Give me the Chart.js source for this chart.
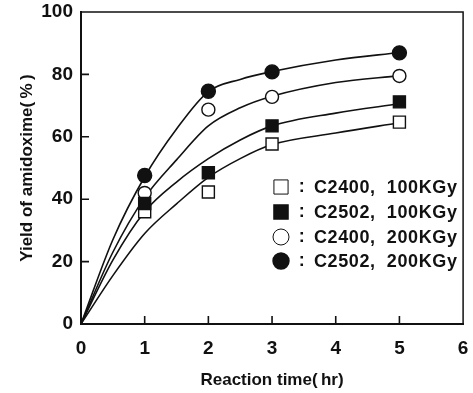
<!DOCTYPE html>
<html>
<head>
<meta charset="utf-8">
<script src="https://cdn.jsdelivr.net/npm/chart.js@4.4.1/dist/chart.umd.min.js"></script>
<style>
  html, body { margin: 0; padding: 0; background: #fff; }
  #wrap { width: 473px; height: 393px; position: relative; }
</style>
</head>
<body>
<div id="wrap"><canvas id="yield"></canvas></div>
<script>
// reaction times (hr) where yield was sampled
const TIMES = [1, 2, 3, 5];

// measured yield of amidoxime (%)
const C2400_100 = [36.0, 42.3, 57.7, 64.7];
const C2502_100 = [38.6, 48.5, 63.5, 71.2];
const C2400_200 = [42.0, 68.7, 72.8, 79.5];
const C2502_200 = [47.6, 74.6, 80.8, 86.9];

// smoothed trend lines, read at these times
const CURVE_X = [0, 0.5, 1, 1.5, 2, 2.5, 3, 4, 5];
const CURVE_C2400_100 = [0, 15.5, 29.0, 38.5, 47.0, 53.0, 57.5, 61.2, 64.5];
const CURVE_C2502_100 = [0, 20.5, 36.0, 45.5, 53.0, 59.0, 63.5, 67.6, 70.6];
const CURVE_C2400_200 = [0, 23.0, 40.5, 52.6, 63.5, 69.3, 73.0, 77.4, 79.6];
const CURVE_C2502_200 = [0, 27.0, 47.2, 62.5, 74.5, 78.4, 80.9, 84.6, 87.0];

const X_TICKS = [0, 1, 2, 3, 4, 5, 6];
const Y_TICKS = [0, 20, 40, 60, 80, 100];

const LEGEND_LABELS = ["C2400,  100KGy", "C2502,  100KGy", "C2400,  200KGy", "C2502,  200KGy"];

const FONT = '"Liberation Sans", Arial, sans-serif';
const INK = "#111";

const markerStyles = [
  { pointStyle: "rect",   radius: 8.5, fill: "#fff" },
  { pointStyle: "rect",   radius: 8.5, fill: INK },
  { pointStyle: "circle", radius: 6.5, fill: "#fff" },
  { pointStyle: "circle", radius: 7,   fill: INK },
];

function pts(xs, ys) {
  return xs.map((x, i) => ({ x: x, y: ys[i] }));
}

function curve(values) {
  return {
    type: "line",
    data: pts(CURVE_X, values),
    borderColor: INK,
    borderWidth: 1.6,
    pointRadius: 0,
    cubicInterpolationMode: "monotone",
    fill: false,
    order: 10,
  };
}

function markers(values, idx, order) {
  const s = markerStyles[idx];
  return {
    type: "scatter",
    data: pts(TIMES, values),
    pointStyle: s.pointStyle,
    pointRadius: s.radius,
    pointHoverRadius: s.radius,
    backgroundColor: s.fill,
    borderColor: INK,
    borderWidth: 1.4,
    order: order,
  };
}

// frame on top/right plus inward tick marks
const frame = {
  id: "frame",
  afterDatasetsDraw(chart) {
    const { ctx, chartArea: a, scales: { x, y } } = chart;
    ctx.save();
    ctx.strokeStyle = INK;
    ctx.lineWidth = 1.5;
    ctx.beginPath();
    ctx.moveTo(a.left, a.top);
    ctx.lineTo(a.right, a.top);
    ctx.lineTo(a.right, a.bottom);
    ctx.stroke();

    ctx.lineWidth = 1.6;
    ctx.beginPath();
    Y_TICKS.slice(1, -1).forEach(v => {
      const py = y.getPixelForValue(v);
      ctx.moveTo(a.left, py);
      ctx.lineTo(a.left + 8, py);
    });
    X_TICKS.slice(1, -1).forEach(v => {
      const px = x.getPixelForValue(v);
      ctx.moveTo(px, a.bottom);
      ctx.lineTo(px, a.bottom - 8);
    });
    ctx.stroke();
    ctx.restore();
  },
};

// symbol key in the lower right of the plot
const key = {
  id: "key",
  afterDraw(chart) {
    const ctx = chart.ctx;
    const rows = [187, 212, 237, 261];
    ctx.save();
    ctx.font = "bold 18px " + FONT;
    ctx.letterSpacing = "0.6px";
    ctx.textBaseline = "middle";
    LEGEND_LABELS.forEach((label, i) => {
      const s = markerStyles[i];
      ctx.fillStyle = s.fill;
      ctx.strokeStyle = INK;
      ctx.lineWidth = s.fill === "#fff" ? 1 : 1.4;
      Chart.helpers.drawPoint(ctx, {
        pointStyle: s.pointStyle,
        radius: s.pointStyle === "rect" ? 10 : 8,
        rotation: 0,
        borderWidth: ctx.lineWidth,
      }, 281, rows[i]);
      ctx.fillStyle = INK;
      ctx.textAlign = "center";
      ctx.fillText(":", 302, rows[i]);
      ctx.textAlign = "left";
      ctx.fillText(label, 314, rows[i] + 1);
    });
    ctx.restore();
  },
};

new Chart(document.getElementById("yield"), {
  data: {
    datasets: [
      curve(CURVE_C2400_100),
      curve(CURVE_C2502_100),
      curve(CURVE_C2400_200),
      curve(CURVE_C2502_200),
      markers(C2400_100, 0, 4),
      markers(C2502_100, 1, 2),
      markers(C2400_200, 2, 3),
      markers(C2502_200, 3, 1),
    ],
  },
  options: {
    responsive: true,
    maintainAspectRatio: false,
    animation: false,
    events: [],
    layout: { padding: { top: 12, right: 8, left: 0, bottom: 0 } },
    plugins: { legend: { display: false }, tooltip: { enabled: false } },
    scales: {
      x: {
        type: "linear",
        min: 0,
        max: 6,
        afterFit(s) {
          s.height = 69;
          s.paddingLeft = 0;
          s.paddingRight = 0;
        },
        afterBuildTicks(s) { s.ticks = X_TICKS.map(v => ({ value: v })); },
        grid: { display: false, drawTicks: false },
        border: { display: true, color: INK, width: 2 },
        ticks: { color: INK, padding: 13, font: { family: FONT, size: 19, weight: "bold" } },
        title: {
          display: true,
          text: "Reaction time(\u2009hr)",
          color: INK,
          padding: { top: 0, bottom: 4 },
          font: { family: FONT, size: 17, weight: "bold", lineHeight: 1 },
        },
      },
      y: {
        type: "linear",
        min: 0,
        max: 100,
        afterFit(s) {
          s.width = 81;
          s.paddingTop = 0;
          s.paddingBottom = 0;
        },
        afterBuildTicks(s) { s.ticks = Y_TICKS.map(v => ({ value: v })); },
        grid: { display: false, drawTicks: false },
        border: { display: true, color: INK, width: 2 },
        ticks: { color: INK, padding: 8, font: { family: FONT, size: 19, weight: "bold" } },
        title: {
          display: true,
          text: "Yield of amidoxime(\u2009%\u2009)",
          color: INK,
          padding: { top: 19, bottom: 0 },
          font: { family: FONT, size: 17, weight: "bold", lineHeight: 1 },
        },
      },
    },
  },
  plugins: [frame, key],
});
</script>
</body>
</html>
